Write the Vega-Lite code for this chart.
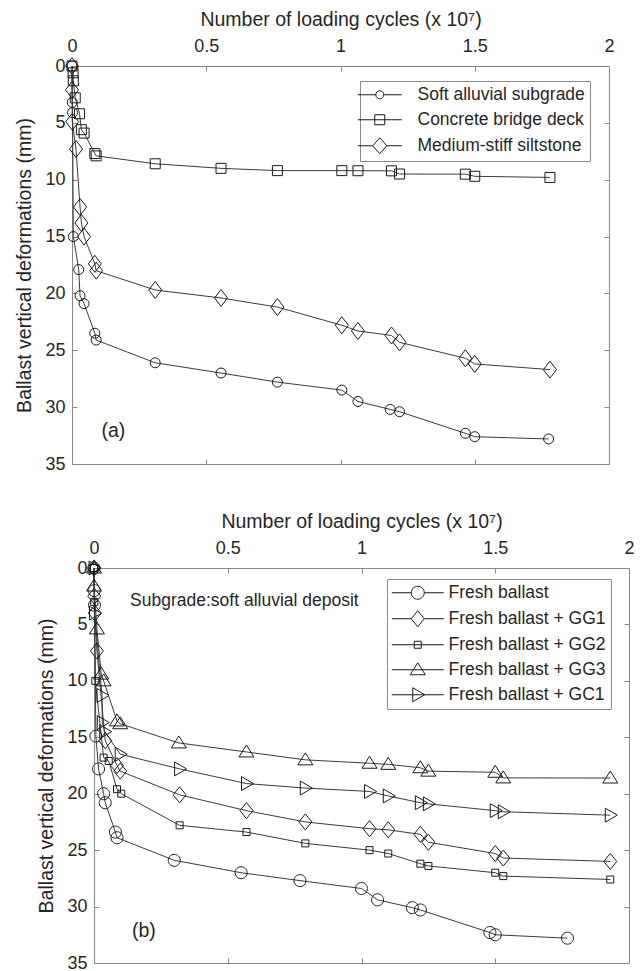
{
  "$schema": "https://vega.github.io/schema/vega-lite/v6.json",
  "background": "white",
  "padding": {"left": 13, "top": 9, "right": 4, "bottom": 4},
  "spacing": 38,
  "config": {
    "view": {"stroke": null},
    "font": "Liberation Sans",
    "axis": {
      "labelFont": "Liberation Sans", "labelFontSize": 18, "labelColor": "#262626",
      "titleFont": "Liberation Sans", "titleFontSize": 19.5, "titleFontWeight": "normal", "titleColor": "#262626",
      "domainColor": "#888888", "tickColor": "#888888", "tickSize": -5, "grid": false,
      "labelFlush": false, "labelOverlap": false
    },
    "legend": {
      "labelFont": "Liberation Sans", "labelFontSize": 17.5, "labelColor": "#262626", "labelLimit": 0,
      "strokeColor": "#8a8a8a", "fillColor": "white", "padding": 5, "rowPadding": 6,
      "symbolSize": 4,
      "symbolStrokeColor": "#1a1a1a", "symbolStrokeWidth": 1, "symbolOpacity": 1, "symbolFillColor": "transparent"
    }
  },
  "datasets": {
    "a": [
      {"s": "Soft alluvial subgrade", "n": 0, "d": 0},
      {"s": "Soft alluvial subgrade", "n": 0.001, "d": 3.2},
      {"s": "Soft alluvial subgrade", "n": 0.002, "d": 4.1},
      {"s": "Soft alluvial subgrade", "n": 0.005, "d": 15.0},
      {"s": "Soft alluvial subgrade", "n": 0.025, "d": 17.9},
      {"s": "Soft alluvial subgrade", "n": 0.03, "d": 20.2},
      {"s": "Soft alluvial subgrade", "n": 0.045, "d": 20.9},
      {"s": "Soft alluvial subgrade", "n": 0.085, "d": 23.5},
      {"s": "Soft alluvial subgrade", "n": 0.09, "d": 24.1},
      {"s": "Soft alluvial subgrade", "n": 0.31, "d": 26.1},
      {"s": "Soft alluvial subgrade", "n": 0.555, "d": 27.0},
      {"s": "Soft alluvial subgrade", "n": 0.765, "d": 27.8},
      {"s": "Soft alluvial subgrade", "n": 1.005, "d": 28.5},
      {"s": "Soft alluvial subgrade", "n": 1.065, "d": 29.5},
      {"s": "Soft alluvial subgrade", "n": 1.185, "d": 30.2},
      {"s": "Soft alluvial subgrade", "n": 1.22, "d": 30.4},
      {"s": "Soft alluvial subgrade", "n": 1.465, "d": 32.3},
      {"s": "Soft alluvial subgrade", "n": 1.5, "d": 32.6},
      {"s": "Soft alluvial subgrade", "n": 1.775, "d": 32.8},
      {"s": "Concrete bridge deck", "n": 0, "d": 0},
      {"s": "Concrete bridge deck", "n": 0.004, "d": 0.6},
      {"s": "Concrete bridge deck", "n": 0.005, "d": 1.3},
      {"s": "Concrete bridge deck", "n": 0.012, "d": 2.8},
      {"s": "Concrete bridge deck", "n": 0.028, "d": 4.2},
      {"s": "Concrete bridge deck", "n": 0.035, "d": 5.6},
      {"s": "Concrete bridge deck", "n": 0.045, "d": 5.9},
      {"s": "Concrete bridge deck", "n": 0.085, "d": 7.7},
      {"s": "Concrete bridge deck", "n": 0.09, "d": 7.9},
      {"s": "Concrete bridge deck", "n": 0.31, "d": 8.6},
      {"s": "Concrete bridge deck", "n": 0.555, "d": 9.0},
      {"s": "Concrete bridge deck", "n": 0.765, "d": 9.2},
      {"s": "Concrete bridge deck", "n": 1.005, "d": 9.2},
      {"s": "Concrete bridge deck", "n": 1.065, "d": 9.21},
      {"s": "Concrete bridge deck", "n": 1.19, "d": 9.22},
      {"s": "Concrete bridge deck", "n": 1.22, "d": 9.5},
      {"s": "Concrete bridge deck", "n": 1.465, "d": 9.51},
      {"s": "Concrete bridge deck", "n": 1.5, "d": 9.7},
      {"s": "Concrete bridge deck", "n": 1.78, "d": 9.8},
      {"s": "Medium-stiff siltstone", "n": 0, "d": 0},
      {"s": "Medium-stiff siltstone", "n": 0, "d": 2.1},
      {"s": "Medium-stiff siltstone", "n": 0.001, "d": 4.9},
      {"s": "Medium-stiff siltstone", "n": 0.015, "d": 7.3},
      {"s": "Medium-stiff siltstone", "n": 0.03, "d": 12.4},
      {"s": "Medium-stiff siltstone", "n": 0.035, "d": 13.8},
      {"s": "Medium-stiff siltstone", "n": 0.045, "d": 15.0},
      {"s": "Medium-stiff siltstone", "n": 0.085, "d": 17.4},
      {"s": "Medium-stiff siltstone", "n": 0.09, "d": 18.0},
      {"s": "Medium-stiff siltstone", "n": 0.31, "d": 19.7},
      {"s": "Medium-stiff siltstone", "n": 0.555, "d": 20.4},
      {"s": "Medium-stiff siltstone", "n": 0.765, "d": 21.2},
      {"s": "Medium-stiff siltstone", "n": 1.005, "d": 22.8},
      {"s": "Medium-stiff siltstone", "n": 1.065, "d": 23.3},
      {"s": "Medium-stiff siltstone", "n": 1.19, "d": 23.7},
      {"s": "Medium-stiff siltstone", "n": 1.22, "d": 24.3},
      {"s": "Medium-stiff siltstone", "n": 1.465, "d": 25.7},
      {"s": "Medium-stiff siltstone", "n": 1.5, "d": 26.2},
      {"s": "Medium-stiff siltstone", "n": 1.78, "d": 26.7}
    ],
    "b": [
      {"s": "Fresh ballast", "n": 0, "d": 0},
      {"s": "Fresh ballast", "n": 0.001, "d": 2.0},
      {"s": "Fresh ballast", "n": 0.002, "d": 3.3},
      {"s": "Fresh ballast", "n": 0.007, "d": 14.9},
      {"s": "Fresh ballast", "n": 0.017, "d": 17.8},
      {"s": "Fresh ballast", "n": 0.036, "d": 20.0},
      {"s": "Fresh ballast", "n": 0.042, "d": 20.8},
      {"s": "Fresh ballast", "n": 0.08, "d": 23.4},
      {"s": "Fresh ballast", "n": 0.086, "d": 23.9},
      {"s": "Fresh ballast", "n": 0.3, "d": 25.9},
      {"s": "Fresh ballast", "n": 0.55, "d": 27.0},
      {"s": "Fresh ballast", "n": 0.77, "d": 27.7},
      {"s": "Fresh ballast", "n": 1.0, "d": 28.4},
      {"s": "Fresh ballast", "n": 1.06, "d": 29.4},
      {"s": "Fresh ballast", "n": 1.19, "d": 30.1},
      {"s": "Fresh ballast", "n": 1.22, "d": 30.3},
      {"s": "Fresh ballast", "n": 1.48, "d": 32.3},
      {"s": "Fresh ballast", "n": 1.5, "d": 32.5},
      {"s": "Fresh ballast", "n": 1.77, "d": 32.8},
      {"s": "Fresh ballast + GG1", "n": 0, "d": 0},
      {"s": "Fresh ballast + GG1", "n": 0.001, "d": 2.5},
      {"s": "Fresh ballast + GG1", "n": 0.003, "d": 4.0},
      {"s": "Fresh ballast + GG1", "n": 0.011, "d": 7.35},
      {"s": "Fresh ballast + GG1", "n": 0.042, "d": 15.3},
      {"s": "Fresh ballast + GG1", "n": 0.086, "d": 17.5},
      {"s": "Fresh ballast + GG1", "n": 0.098, "d": 18.0},
      {"s": "Fresh ballast + GG1", "n": 0.32, "d": 20.1},
      {"s": "Fresh ballast + GG1", "n": 0.57, "d": 21.5},
      {"s": "Fresh ballast + GG1", "n": 0.79, "d": 22.5},
      {"s": "Fresh ballast + GG1", "n": 1.03, "d": 23.1},
      {"s": "Fresh ballast + GG1", "n": 1.1, "d": 23.2},
      {"s": "Fresh ballast + GG1", "n": 1.22, "d": 23.6},
      {"s": "Fresh ballast + GG1", "n": 1.25, "d": 24.3},
      {"s": "Fresh ballast + GG1", "n": 1.5, "d": 25.3},
      {"s": "Fresh ballast + GG1", "n": 1.53, "d": 25.7},
      {"s": "Fresh ballast + GG1", "n": 1.93, "d": 26.0},
      {"s": "Fresh ballast + GG2", "n": 0, "d": 0},
      {"s": "Fresh ballast + GG2", "n": 0.001, "d": 3.0},
      {"s": "Fresh ballast + GG2", "n": 0.005, "d": 10.0},
      {"s": "Fresh ballast + GG2", "n": 0.036, "d": 16.8},
      {"s": "Fresh ballast + GG2", "n": 0.055, "d": 17.1},
      {"s": "Fresh ballast + GG2", "n": 0.086, "d": 19.6},
      {"s": "Fresh ballast + GG2", "n": 0.102, "d": 20.0},
      {"s": "Fresh ballast + GG2", "n": 0.32, "d": 22.8},
      {"s": "Fresh ballast + GG2", "n": 0.57, "d": 23.4},
      {"s": "Fresh ballast + GG2", "n": 0.79, "d": 24.4},
      {"s": "Fresh ballast + GG2", "n": 1.03, "d": 25.0},
      {"s": "Fresh ballast + GG2", "n": 1.1, "d": 25.3},
      {"s": "Fresh ballast + GG2", "n": 1.22, "d": 26.2},
      {"s": "Fresh ballast + GG2", "n": 1.25, "d": 26.4},
      {"s": "Fresh ballast + GG2", "n": 1.5, "d": 27.0},
      {"s": "Fresh ballast + GG2", "n": 1.53, "d": 27.3},
      {"s": "Fresh ballast + GG2", "n": 1.93, "d": 27.6},
      {"s": "Fresh ballast + GG3", "n": 0, "d": 0},
      {"s": "Fresh ballast + GG3", "n": 0, "d": 1.6},
      {"s": "Fresh ballast + GG3", "n": 0.011, "d": 5.4},
      {"s": "Fresh ballast + GG3", "n": 0.027, "d": 9.4},
      {"s": "Fresh ballast + GG3", "n": 0.036, "d": 10.0},
      {"s": "Fresh ballast + GG3", "n": 0.086, "d": 13.55},
      {"s": "Fresh ballast + GG3", "n": 0.098, "d": 13.8},
      {"s": "Fresh ballast + GG3", "n": 0.317, "d": 15.5},
      {"s": "Fresh ballast + GG3", "n": 0.57, "d": 16.3},
      {"s": "Fresh ballast + GG3", "n": 0.79, "d": 17.0},
      {"s": "Fresh ballast + GG3", "n": 1.03, "d": 17.3},
      {"s": "Fresh ballast + GG3", "n": 1.1, "d": 17.4},
      {"s": "Fresh ballast + GG3", "n": 1.22, "d": 17.7},
      {"s": "Fresh ballast + GG3", "n": 1.25, "d": 18.0},
      {"s": "Fresh ballast + GG3", "n": 1.5, "d": 18.1},
      {"s": "Fresh ballast + GG3", "n": 1.53, "d": 18.6},
      {"s": "Fresh ballast + GG3", "n": 1.93, "d": 18.61},
      {"s": "Fresh ballast + GC1", "n": 0, "d": 0},
      {"s": "Fresh ballast + GC1", "n": 0.002, "d": 4.0},
      {"s": "Fresh ballast + GC1", "n": 0.03, "d": 11.3},
      {"s": "Fresh ballast + GC1", "n": 0.031, "d": 13.7},
      {"s": "Fresh ballast + GC1", "n": 0.04, "d": 14.5},
      {"s": "Fresh ballast + GC1", "n": 0.098, "d": 16.5},
      {"s": "Fresh ballast + GC1", "n": 0.32, "d": 17.8},
      {"s": "Fresh ballast + GC1", "n": 0.57, "d": 19.1},
      {"s": "Fresh ballast + GC1", "n": 0.79, "d": 19.5},
      {"s": "Fresh ballast + GC1", "n": 1.03, "d": 19.8},
      {"s": "Fresh ballast + GC1", "n": 1.1, "d": 20.2},
      {"s": "Fresh ballast + GC1", "n": 1.22, "d": 20.8},
      {"s": "Fresh ballast + GC1", "n": 1.25, "d": 20.9},
      {"s": "Fresh ballast + GC1", "n": 1.5, "d": 21.5},
      {"s": "Fresh ballast + GC1", "n": 1.53, "d": 21.6},
      {"s": "Fresh ballast + GC1", "n": 1.93, "d": 21.9}
    ],
    "notesA": [{"n": 0.11, "d": 32.1, "label": "(a)"}],
    "notesB": [{"n": 0.142, "d": 32.2, "label": "(b)"}],
    "notesB2": [{"n": 0.135, "d": 2.9, "label": "Subgrade:soft alluvial deposit"}]
  },
  "vconcat": [
    {
      "spacing": 0,
      "hconcat": [
        {
          "width": 1,
          "height": 10,
          "data": {"values": [{}]},
          "mark": {"type": "text", "text": " "}
        },
        {
          "width": 537,
          "height": 398,
          "data": {"name": "a"},
          "layer": [
            {
              "mark": {"type": "line", "color": "#3a3a3a", "strokeWidth": 1},
              "encoding": {
                "x": {"field": "n", "type": "quantitative", "scale": {"domain": [0, 2], "nice": false},
                      "axis": {"orient": "top", "values": [0, 0.5, 1, 1.5, 2], "format": "~g",
                               "title": "Number of loading cycles (x 10⁷)", "labelPadding": 16, "titlePadding": 8}},
                "y": {"field": "d", "type": "quantitative", "scale": {"domain": [0, 35], "reverse": true, "nice": false},
                      "axis": {"values": [0, 5, 10, 15, 20, 25, 30, 35], "title": "Ballast vertical deformations (mm)",
                               "labelPadding": 12, "titlePadding": 10}},
                "detail": {"field": "s"},
                "order": {"field": "d", "type": "quantitative"}
              }
            },
            {
              "mark": {"type": "point", "filled": false, "size": 4, "color": "#1a1a1a", "strokeWidth": 1, "opacity": 1},
              "encoding": {
                "x": {"field": "n", "type": "quantitative",
                      "axis": {"orient": "bottom", "values": [0, 0.5, 1, 1.5, 2], "labels": false, "title": null}},
                "y": {"field": "d", "type": "quantitative",
                      "axis": {"orient": "right", "values": [0, 5, 10, 15, 20, 25, 30, 35], "labels": false, "title": null}},
                "shape": {"field": "s", "type": "nominal",
                          "scale": {"domain": ["Soft alluvial subgrade", "Concrete bridge deck", "Medium-stiff siltstone"],
                                    "range": ["M5,0A5,5,0,1,1,-5,0A5,5,0,1,1,5,0Z", "M-5,-5H5V5H-5Z", "M0,-8.5L6.5,0L0,8.5L-6.5,0Z"]},
                          "legend": null}
              }
            },
            {
              "mark": {"type": "point", "filled": false, "size": 4, "color": "#1a1a1a", "opacity": 0},
              "encoding": {
                "x": {"field": "n", "type": "quantitative", "axis": null},
                "y": {"field": "d", "type": "quantitative", "axis": null},
                "shape": {"field": "s", "type": "nominal",
                          "scale": {"domain": ["Soft alluvial subgrade", "Concrete bridge deck", "Medium-stiff siltstone"],
                                    "range": ["M-22,0H-4M4,0H22M4,0A4,4,0,1,1,-4,0A4,4,0,1,1,4,0",
                                              "M-22,0H22M-5,-5H5V5H-5Z",
                                              "M-22,0H-7M7,0H22M0,-8L7,0L0,8L-7,0Z"]},
                          "legend": {"orient": "none", "legendX": 288, "legendY": 15, "title": null,
                                     "symbolOffset": 6, "labelOffset": 29}}
              }
            },
            {
              "data": {"name": "notesA"},
              "mark": {"type": "text", "fontSize": 19.5, "color": "#262626", "align": "left", "baseline": "middle"},
              "encoding": {
                "x": {"field": "n", "type": "quantitative", "axis": null},
                "y": {"field": "d", "type": "quantitative", "axis": null},
                "text": {"field": "label"}
              }
            }
          ],
          "resolve": {"axis": {"x": "independent", "y": "independent"}, "scale": {"shape": "independent"}}
        }
      ]
    },
    {
      "spacing": 0,
      "hconcat": [
        {
          "width": 23,
          "height": 10,
          "data": {"values": [{}]},
          "mark": {"type": "text", "text": " "}
        },
        {
          "width": 535,
          "height": 395,
          "data": {"name": "b"},
          "layer": [
            {
              "mark": {"type": "line", "color": "#3a3a3a", "strokeWidth": 1},
              "encoding": {
                "x": {"field": "n", "type": "quantitative", "scale": {"domain": [0, 2], "nice": false},
                      "axis": {"orient": "top", "values": [0, 0.5, 1, 1.5, 2], "format": "~g",
                               "title": "Number of loading cycles (x 10⁷)", "labelPadding": 16, "titlePadding": 8}},
                "y": {"field": "d", "type": "quantitative", "scale": {"domain": [0, 35], "reverse": true, "nice": false},
                      "axis": {"values": [0, 5, 10, 15, 20, 25, 30, 35], "title": "Ballast vertical deformations (mm)",
                               "labelPadding": 12, "titlePadding": 10}},
                "detail": {"field": "s"},
                "order": {"field": "d", "type": "quantitative"}
              }
            },
            {
              "mark": {"type": "point", "filled": false, "size": 4, "color": "#1a1a1a", "strokeWidth": 1, "opacity": 1},
              "encoding": {
                "x": {"field": "n", "type": "quantitative",
                      "axis": {"orient": "bottom", "values": [0, 0.5, 1, 1.5, 2], "labels": false, "title": null}},
                "y": {"field": "d", "type": "quantitative",
                      "axis": {"orient": "right", "values": [0, 5, 10, 15, 20, 25, 30, 35], "labels": false, "title": null}},
                "shape": {"field": "s", "type": "nominal",
                          "scale": {"domain": ["Fresh ballast", "Fresh ballast + GG1", "Fresh ballast + GG2", "Fresh ballast + GG3", "Fresh ballast + GC1"],
                                    "range": ["M6,0A6,6,0,1,1,-6,0A6,6,0,1,1,6,0Z", "M0,-8L6.5,0L0,8L-6.5,0Z", "M-3.5,-3.5H3.5V3.5H-3.5Z", "M0,-7L7.5,5H-7.5Z", "M-5,-7L7,0L-5,7Z"]},
                          "legend": null}
              }
            },
            {
              "mark": {"type": "point", "filled": false, "size": 4, "color": "#1a1a1a", "opacity": 0},
              "encoding": {
                "x": {"field": "n", "type": "quantitative", "axis": null},
                "y": {"field": "d", "type": "quantitative", "axis": null},
                "shape": {"field": "s", "type": "nominal",
                          "scale": {"domain": ["Fresh ballast", "Fresh ballast + GG1", "Fresh ballast + GG2", "Fresh ballast + GG3", "Fresh ballast + GC1"],
                                    "range": ["M-26,0H-6.5M6.5,0H26M6.5,0A6.5,6.5,0,1,1,-6.5,0A6.5,6.5,0,1,1,6.5,0",
                                              "M-26,0H-6.5M6.5,0H26M0,-8L6.5,0L0,8L-6.5,0Z",
                                              "M-26,0H26M-3.5,-3.5H3.5V3.5H-3.5Z",
                                              "M-26,0H26M0,-7L7.5,5H-7.5Z",
                                              "M-26,0H26M-5,-7L7,0L-5,7Z"]},
                          "legend": {"orient": "none", "legendX": 293, "legendY": 11, "title": null,
                                     "symbolOffset": 17, "labelOffset": 22}}
              }
            },
            {
              "data": {"name": "notesB"},
              "mark": {"type": "text", "fontSize": 19.5, "color": "#262626", "align": "left", "baseline": "middle"},
              "encoding": {
                "x": {"field": "n", "type": "quantitative", "axis": null},
                "y": {"field": "d", "type": "quantitative", "axis": null},
                "text": {"field": "label"}
              }
            },
            {
              "data": {"name": "notesB2"},
              "mark": {"type": "text", "fontSize": 17.5, "color": "#262626", "align": "left", "baseline": "middle"},
              "encoding": {
                "x": {"field": "n", "type": "quantitative", "axis": null},
                "y": {"field": "d", "type": "quantitative", "axis": null},
                "text": {"field": "label"}
              }
            }
          ],
          "resolve": {"axis": {"x": "independent", "y": "independent"}, "scale": {"shape": "independent"}}
        }
      ]
    }
  ]
}
